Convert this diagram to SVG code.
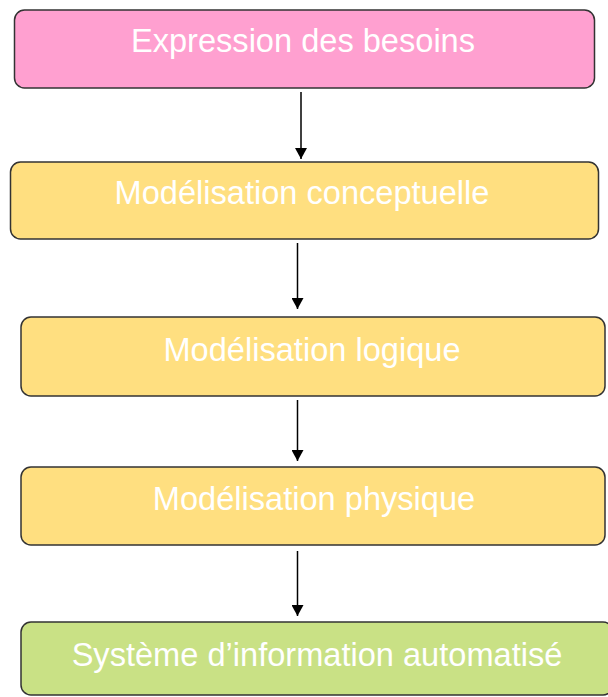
<svg xmlns="http://www.w3.org/2000/svg" width="608" height="697" viewBox="0 0 608 697">
<defs>
<style>
.box{stroke:#333;stroke-width:1.5}
.t{font-family:"Liberation Sans",Arial,sans-serif;font-size:32.6px;fill:#fff;text-anchor:middle}
.c{stroke:#000;stroke-width:1.5;fill:none}
</style>
<marker id="ah" viewBox="0 0 11 12" refX="11" refY="6" markerWidth="11" markerHeight="12" markerUnits="userSpaceOnUse" orient="auto">
<path d="M0,0 L11,6 L0,12 z" fill="#000"/>
</marker>
</defs>
<rect width="608" height="697" fill="#fff"/>
<g id="n1"><rect class="box" x="14.5" y="10" width="580" height="78" rx="10" fill="#ffa0d0"/><text class="t" x="303" y="52">Expression des besoins</text></g>
<g id="n2"><rect class="box" x="10.5" y="162" width="588" height="77" rx="10" fill="#ffdf80"/><text class="t" x="302" y="204">Modélisation conceptuelle</text></g>
<g id="n3"><rect class="box" x="21" y="317" width="584" height="79" rx="10" fill="#ffdf80"/><text class="t" x="312" y="361">Modélisation logique</text></g>
<g id="n4"><rect class="box" x="21" y="467" width="584" height="78" rx="10" fill="#ffdf80"/><text class="t" x="314" y="510">Modélisation physique</text></g>
<g id="n5"><rect class="box" x="21" y="622" width="592" height="73" rx="10" fill="#c9e185"/><text class="t" x="317" y="666">Système d’information automatisé</text></g>
<g id="connectors">
<line class="c" x1="301" y1="92" x2="301" y2="159" marker-end="url(#ah)"/>
<line class="c" x1="297.5" y1="243" x2="297.5" y2="309" marker-end="url(#ah)"/>
<line class="c" x1="297.5" y1="400" x2="297.5" y2="461" marker-end="url(#ah)"/>
<line class="c" x1="297.5" y1="551" x2="297.5" y2="616" marker-end="url(#ah)"/>
</g>
</svg>
